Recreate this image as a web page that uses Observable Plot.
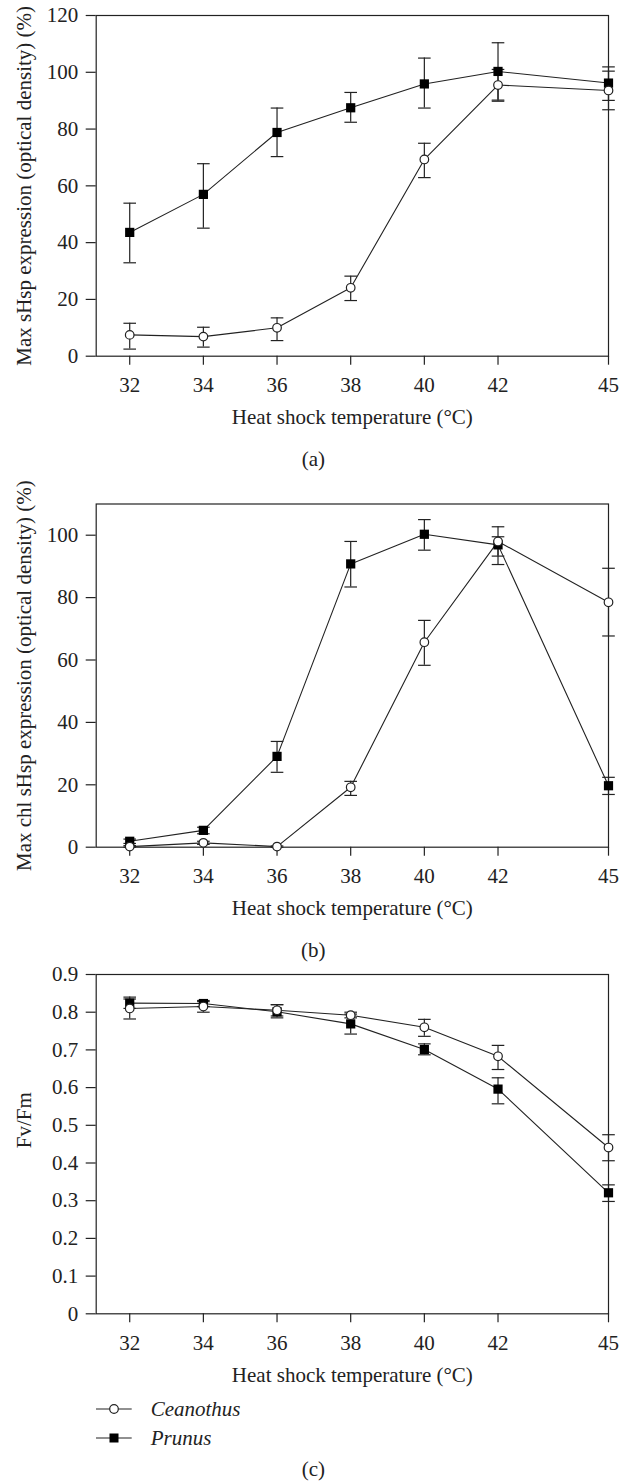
<!DOCTYPE html>
<html>
<head>
<meta charset="utf-8">
<script src="https://cdn.jsdelivr.net/npm/d3@7"></script>
<script src="https://cdn.jsdelivr.net/npm/@observablehq/plot@0.6"></script>
<style>
  html, body { margin: 0; padding: 0; background: #fff; }
  #fig { position: relative; width: 633px; height: 1481px; overflow: hidden; font-family: "Liberation Serif", "Times New Roman", serif; color: #222; }
  .panel { position: absolute; left: 0; }
</style>
</head>
<body>
<div id="fig"></div>
<script>
// ---------- data ----------
const temps = [32, 34, 36, 38, 40, 42, 45];
const xTicks = [32, 34, 36, 38, 40, 42, 45];
const species = ["Ceanothus", "Prunus"];

// (a) Max sHsp expression (%)
const aCeanMean = [7.5, 6.9, 10.0, 24.1, 69.3, 95.5, 93.6];
const aCeanLo   = [2.5, 3.2, 5.5, 19.6, 62.9, 89.8, 86.8];
const aCeanHi   = [11.6, 10.2, 13.5, 28.2, 75.0, 101.0, 100.4];
const aPrunMean = [43.6, 57.0, 78.8, 87.5, 95.9, 100.3, 96.2];
const aPrunLo   = [32.9, 45.1, 70.3, 82.4, 87.4, 90.2, 90.1];
const aPrunHi   = [53.9, 67.8, 87.4, 92.9, 105.0, 110.4, 101.9];
const aYTicks   = [0, 20, 40, 60, 80, 100, 120];

// (b) Max chl sHsp expression (%)
const bCeanMean = [0.2, 1.4, 0.2, 19.2, 65.7, 98.0, 78.5];
const bCeanLo   = [0.0, 0.9, 0.0, 16.6, 58.3, 93.3, 67.7];
const bCeanHi   = [0.5, 1.9, 0.4, 21.1, 72.7, 102.7, 89.4];
const bPrunMean = [1.9, 5.4, 29.1, 90.8, 100.3, 96.9, 19.7];
const bPrunLo   = [1.2, 4.3, 24.0, 83.4, 95.2, 90.6, 16.9];
const bPrunHi   = [2.6, 6.4, 33.9, 98.0, 105.0, 99.5, 22.4];
const bYTicks   = [0, 20, 40, 60, 80, 100];

// (c) Fv/Fm
const cCeanMean = [0.810, 0.815, 0.805, 0.792, 0.760, 0.683, 0.441];
const cCeanLo   = [0.782, 0.800, 0.790, 0.785, 0.736, 0.648, 0.406];
const cCeanHi   = [0.835, 0.828, 0.820, 0.800, 0.781, 0.712, 0.475];
const cPrunMean = [0.824, 0.823, 0.801, 0.769, 0.701, 0.596, 0.321];
const cPrunLo   = [0.810, 0.815, 0.785, 0.742, 0.687, 0.557, 0.298];
const cPrunHi   = [0.840, 0.831, 0.820, 0.795, 0.716, 0.626, 0.342];
const cYTicks   = [0, 0.1, 0.2, 0.3, 0.4, 0.5, 0.6, 0.7, 0.8, 0.9];

const xTitle = "Heat shock temperature (\u00B0C)";

// ---------- drawing ----------
const ink = "#222";
const FONT = '"Liberation Serif", "Times New Roman", serif';
const FS = 21;
const capSymbol = { draw(ctx) { ctx.moveTo(-6.3, 0); ctx.lineTo(6.3, 0); } };

function buildRows(cm, cl, ch, pm, pl, ph) {
  const rows = [];
  temps.forEach((t, i) => {
    rows.push({ species: species[0], t, v: cm[i], lo: cl[i], hi: ch[i] });
  });
  temps.forEach((t, i) => {
    rows.push({ species: species[1], t, v: pm[i], lo: pl[i], hi: ph[i] });
  });
  return rows;
}

function panel(o) {
  const rows = buildRows(o.cm, o.cl, o.ch, o.pm, o.pl, o.ph);
  const cean = rows.filter(d => d.species === species[0]);
  const prun = rows.filter(d => d.species === species[1]);
  const chart = Plot.plot({
    width: 633,
    height: o.height,
    marginTop: o.marginTop,
    marginBottom: o.marginBottom,
    marginLeft: 95.7,
    marginRight: 25,
    style: { fontFamily: FONT, fontSize: FS + "px", color: ink, background: "transparent", overflow: "visible" },
    x: { domain: [31.09, 45] },
    y: { domain: o.yDomain },
    marks: [
      Plot.frame({ stroke: ink, strokeWidth: 1.2 }),
      Plot.axisX({ ticks: xTicks, tickSize: 9, tickPadding: 12, tickFormat: d => String(d), label: null, stroke: ink, strokeWidth: 1.2, fill: ink }),
      Plot.axisY({ ticks: o.yTicks, tickSize: 10, tickPadding: 8, tickFormat: o.yFormat, label: null, stroke: ink, strokeWidth: 1.2, fill: ink }),
      Plot.line(rows, { x: "t", y: "v", z: "species", stroke: ink, strokeWidth: 1.1 }),
      Plot.ruleX(rows, { x: "t", y1: "lo", y2: "hi", stroke: ink, strokeWidth: 1.2 }),
      Plot.dot(rows, { x: "t", y: "lo", symbol: capSymbol, fill: "none", stroke: ink, strokeWidth: 1.2 }),
      Plot.dot(rows, { x: "t", y: "hi", symbol: capSymbol, fill: "none", stroke: ink, strokeWidth: 1.2 }),
      Plot.dot(prun, { x: "t", y: "v", symbol: "square", r: 5.2, fill: "#000", stroke: "none" }),
      Plot.dot(cean, { x: "t", y: "v", symbol: "circle", r: 4.3, fill: "#fff", stroke: ink, strokeWidth: 1.2 }),
      Plot.text([xTitle], { frameAnchor: "bottom", dy: 61, lineAnchor: "middle", textAnchor: "middle", fontSize: FS, fill: ink }),
      Plot.text([o.yTitle], { frameAnchor: "left", rotate: -90, dx: -72, dy: o.yTitleDy || 0, lineAnchor: "middle", textAnchor: "middle", fontSize: FS, fill: ink }),
      Plot.text([o.caption], { frameAnchor: "bottom", dx: -39, dy: o.captionDy, lineAnchor: "middle", textAnchor: "middle", fontSize: FS, fill: ink })
    ]
  });
  chart.classList.add("panel");
  chart.style.top = o.top + "px";
  chart.style.position = "absolute";
  return chart;
}

const fig = document.getElementById("fig");
const fmtInt = d => String(d);
const fmtDec = d => (d === 0 ? "0" : d.toFixed(1));

fig.appendChild(panel({
  top: 0, height: 480, marginTop: 15, marginBottom: 124.3,
  cm: aCeanMean, cl: aCeanLo, ch: aCeanHi, pm: aPrunMean, pl: aPrunLo, ph: aPrunHi,
  yDomain: [0, 120], yTicks: aYTicks, yFormat: fmtInt,
  yTitle: "Max sHsp expression (optical density) (%)", caption: "(a)", captionDy: 103.3
}));
fig.appendChild(panel({
  top: 480, height: 480, marginTop: 23.5, marginBottom: 113.3,
  cm: bCeanMean, cl: bCeanLo, ch: bCeanHi, pm: bPrunMean, pl: bPrunLo, ph: bPrunHi,
  yDomain: [0, 110], yTicks: bYTicks, yFormat: fmtInt,
  yTitle: "Max chl sHsp expression (optical density) (%)", caption: "(b)", captionDy: 103.3
}));
fig.appendChild(panel({
  top: 960, height: 521, marginTop: 14, marginBottom: 167.7,
  cm: cCeanMean, cl: cCeanLo, ch: cCeanHi, pm: cPrunMean, pl: cPrunLo, ph: cPrunHi,
  yDomain: [0, 0.9], yTicks: cYTicks, yFormat: fmtDec,
  yTitle: "Fv/Fm", yTitleDy: -24, caption: "(c)", captionDy: 155.7
}));

// ---------- legend ----------
const NS = "http://www.w3.org/2000/svg";
const leg = document.createElementNS(NS, "svg");
leg.setAttribute("width", 300);
leg.setAttribute("height", 70);
leg.style.position = "absolute";
leg.style.left = "0px";
leg.style.top = "1390px";
const legRows = [{ name: species[0], y: 19, sym: "circle" }, { name: species[1], y: 48, sym: "square" }];
for (const r of legRows) {
  const ln = document.createElementNS(NS, "line");
  ln.setAttribute("x1", 96); ln.setAttribute("x2", 131.7);
  ln.setAttribute("y1", r.y); ln.setAttribute("y2", r.y);
  ln.setAttribute("stroke", ink); ln.setAttribute("stroke-width", 1.2);
  leg.appendChild(ln);
  if (r.sym === "circle") {
    const c = document.createElementNS(NS, "circle");
    c.setAttribute("cx", 114); c.setAttribute("cy", r.y); c.setAttribute("r", 4.3);
    c.setAttribute("fill", "#fff"); c.setAttribute("stroke", ink); c.setAttribute("stroke-width", 1.2);
    leg.appendChild(c);
  } else {
    const s = document.createElementNS(NS, "rect");
    s.setAttribute("x", 109.5); s.setAttribute("y", r.y - 4.5); s.setAttribute("width", 9); s.setAttribute("height", 9);
    s.setAttribute("fill", "#000");
    leg.appendChild(s);
  }
  const t = document.createElementNS(NS, "text");
  t.setAttribute("x", 150.7); t.setAttribute("y", r.y);
  t.setAttribute("dy", "0.35em");
  t.setAttribute("font-family", FONT); t.setAttribute("font-size", FS);
  t.setAttribute("font-style", "italic"); t.setAttribute("fill", ink);
  t.textContent = r.name;
  leg.appendChild(t);
}
fig.appendChild(leg);
</script>
</body>
</html>
